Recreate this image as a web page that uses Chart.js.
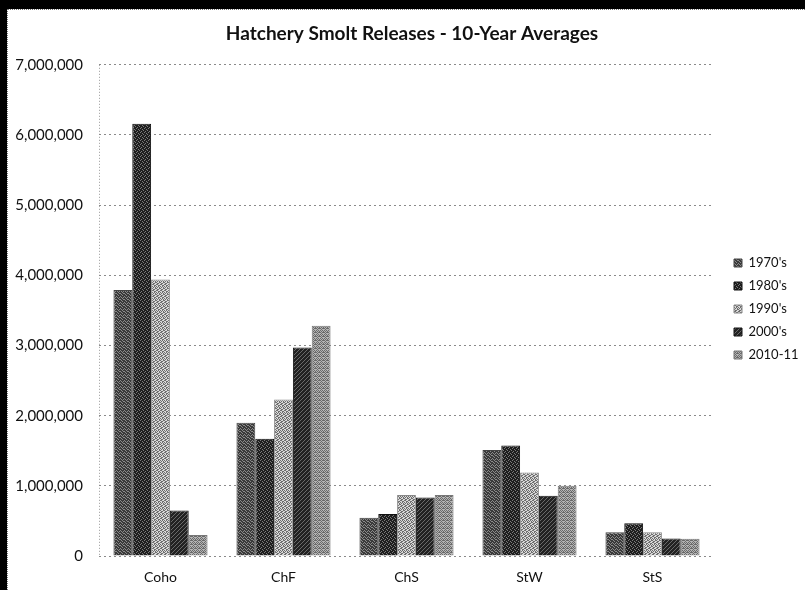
<!DOCTYPE html>
<html>
<head>
<meta charset="utf-8">
<script src="https://cdn.jsdelivr.net/npm/chart.js@4.4.1/dist/chart.umd.min.js"></script>
<style>
  html, body { margin: 0; padding: 0; background: #000; }
  body { width: 805px; height: 590px; overflow: hidden; position: relative; }
  #frame {
    position: absolute; left: 7px; top: 9px; width: 797px; height: 580px;
    background: #fff; border-top: 1px dotted #777; border-left: 1px dotted #777;
  }
  #chart { display: block; }
</style>
</head>
<body>
<div id="frame"><canvas id="chart" width="797" height="580"></canvas></div>
<script>
// Hatchery smolt releases, ten-year averages by stock type
const categories = ['Coho', 'ChF', 'ChS', 'StW', 'StS'];
const seriesLabels = ["1970's", "1980's", "1990's", "2000's", "2010-11"];
const releases1970s = [3790000, 1900000, 545000, 1510000, 340000];
const releases1980s = [6160000, 1670000, 600000, 1575000, 465000];
const releases1990s = [3940000, 2230000, 870000, 1190000, 340000];
const releases2000s = [650000, 2970000, 835000, 860000, 250000];
const releases2010s = [300000, 3280000, 870000, 1000000, 245000];
const yAxisMax = 7000000;
const yAxisStep = 1000000;

// Small repeating grey textures for the bar fills
function texture(dark, light, rows) {
  const c = document.createElement('canvas');
  c.width = rows[0].length; c.height = rows.length;
  const g = c.getContext('2d');
  rows.forEach((row, y) => {
    for (let x = 0; x < row.length; x++) {
      g.fillStyle = row[x] === '1' ? dark : light;
      g.fillRect(x, y, 1, 1);
    }
  });
  return g.createPattern(c, 'repeat');
}

const ctx = document.getElementById('chart').getContext('2d');
const fills = [
  texture('#3a3a3a', '#8a8a8a', ['1101', '0110', '1011', '1101', '0111', '1010']),
  texture('#1e1e1e', '#7a7a7a', ['1110', '1011', '0111', '1101']),
  texture('#6e6e6e', '#d8d8d8', ['1010', '0101', '1001', '0110', '1100', '0011']),
  texture('#222222', '#6a6a6a', ['1101', '1011', '0111', '1110']),
  texture('#6a6a6a', '#b4b4b4', ['1010', '0101', '1011', '0100'])
];
const edges = ['#444', '#111', '#888', '#151515', '#777'];
const seriesValues = [releases1970s, releases1980s, releases1990s, releases2000s, releases2010s];

const fontFamily = 'Lato, "Open Sans", sans-serif';

// Fixed legend column width, and a nudge of the legend items away from the plot
const legendWidth = 102;
const legendShift = { x: 10, y: 9 };
const legendPlacement = {
  id: 'legendPlacement',
  afterInit(chart) {
    const lg = chart.legend;
    if (!lg) return;
    const fit = lg.fit.bind(lg);
    lg.fit = function () { fit(); this.width = legendWidth; };
    const draw = lg.draw.bind(lg);
    lg.draw = function (area) {
      chart.ctx.save();
      chart.ctx.translate(legendShift.x, legendShift.y);
      draw(area);
      chart.ctx.restore();
    };
  }
};

new Chart(ctx, {
  type: 'bar',
  data: {
    labels: categories,
    datasets: seriesLabels.map((label, i) => ({
      label,
      data: seriesValues[i],
      backgroundColor: fills[i],
      borderColor: edges[i],
      borderWidth: 1,
      barPercentage: 1,
      categoryPercentage: 0.765
    }))
  },
  plugins: [legendPlacement],
  options: {
    responsive: false,
    animation: false,
    layout: { padding: { left: 0, right: -11, top: 0, bottom: 0 } },
    plugins: {
      title: {
        display: true,
        text: 'Hatchery Smolt Releases - 10-Year Averages',
        color: '#111',
        font: { family: fontFamily, size: 19, weight: 'bold' },
        padding: { top: 12, bottom: 20 }
      },
      legend: {
        position: 'right',
        labels: {
          color: '#111',
          font: { family: fontFamily, size: 13 },
          boxWidth: 8,
          boxHeight: 8,
          padding: 10
        }
      },
      tooltip: { enabled: false }
    },
    scales: {
      x: {
        afterFit: (s) => { s.height = 34; },
        grid: {
          drawTicks: false,
          color: (c) => (c.index === 0 ? '#999' : 'rgba(0,0,0,0)'),
          lineWidth: 1
        },
        border: { display: false, dash: [1, 2] },
        ticks: { color: '#111', font: { family: fontFamily, size: 14 }, padding: 13 }
      },
      y: {
        min: 0,
        max: yAxisMax,
        afterFit: (s) => { s.width = 91; },
        grid: { drawTicks: false, color: '#8a8a8a', lineWidth: 1 },
        border: { display: false, dash: [2, 3] },
        ticks: {
          stepSize: yAxisStep,
          color: '#111',
          font: { family: fontFamily, size: 15 },
          padding: 16,
          callback: (v) => v.toLocaleString('en-US')
        }
      }
    }
  }
});
</script>
</body>
</html>
